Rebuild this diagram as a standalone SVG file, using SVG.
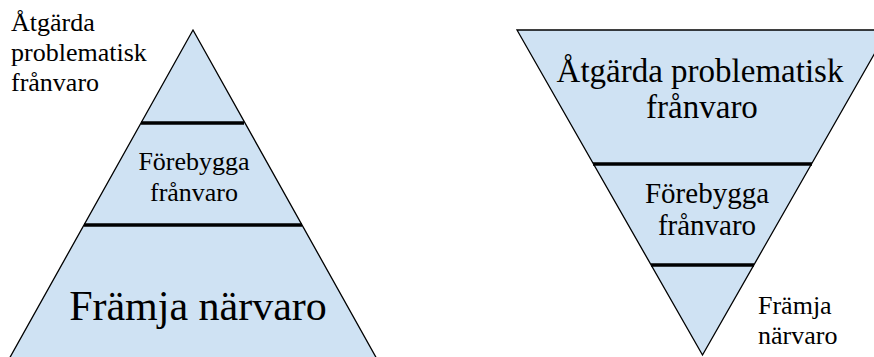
<svg xmlns="http://www.w3.org/2000/svg" width="874" height="357" viewBox="0 0 874 357">
<style>
.tri{fill:#cfe2f3;stroke:#000;stroke-width:1.3}
.bar{stroke:#000;stroke-width:3.5}
text{font-family:"Liberation Serif","Times New Roman",serif;fill:#000}
.c{text-anchor:middle}
</style>
<rect width="874" height="357" fill="#fff"/>
<g id="pyramid">
<polygon class="tri" points="193,30 377.5,360 8.5,360"/>
</g>
<g id="inverted">
<polygon class="tri" points="517,30 888,30 702.5,355"/>
</g>
<g id="connectors">
<line class="bar" x1="141" y1="123" x2="244" y2="123"/>
<line class="bar" x1="84" y1="225" x2="302" y2="225"/>
<line class="bar" x1="593" y1="164" x2="812" y2="164"/>
<line class="bar" x1="651" y1="265" x2="754" y2="265"/>
</g>
<g id="left-top-label">
<text x="11" y="31" font-size="26">Åtgärda</text>
<text x="11" y="61" font-size="26">problematisk</text>
<text x="11" y="91" font-size="26">frånvaro</text>
</g>
<g id="left-mid-label">
<text class="c" x="194" y="170" font-size="26">Förebygga</text>
<text class="c" x="194" y="201" font-size="26">frånvaro</text>
</g>
<g id="left-bottom-label">
<text class="c" x="198" y="320" font-size="42">Främja närvaro</text>
</g>
<g id="right-top-label">
<text class="c" x="700" y="82" font-size="33">Åtgärda problematisk</text>
<text class="c" x="702" y="118" font-size="33">frånvaro</text>
</g>
<g id="right-mid-label">
<text class="c" x="707" y="203" font-size="29">Förebygga</text>
<text class="c" x="707" y="235" font-size="29">frånvaro</text>
</g>
<g id="right-bottom-label">
<text x="758" y="314" font-size="26">Främja</text>
<text x="758" y="344" font-size="26">närvaro</text>
</g>
</svg>
